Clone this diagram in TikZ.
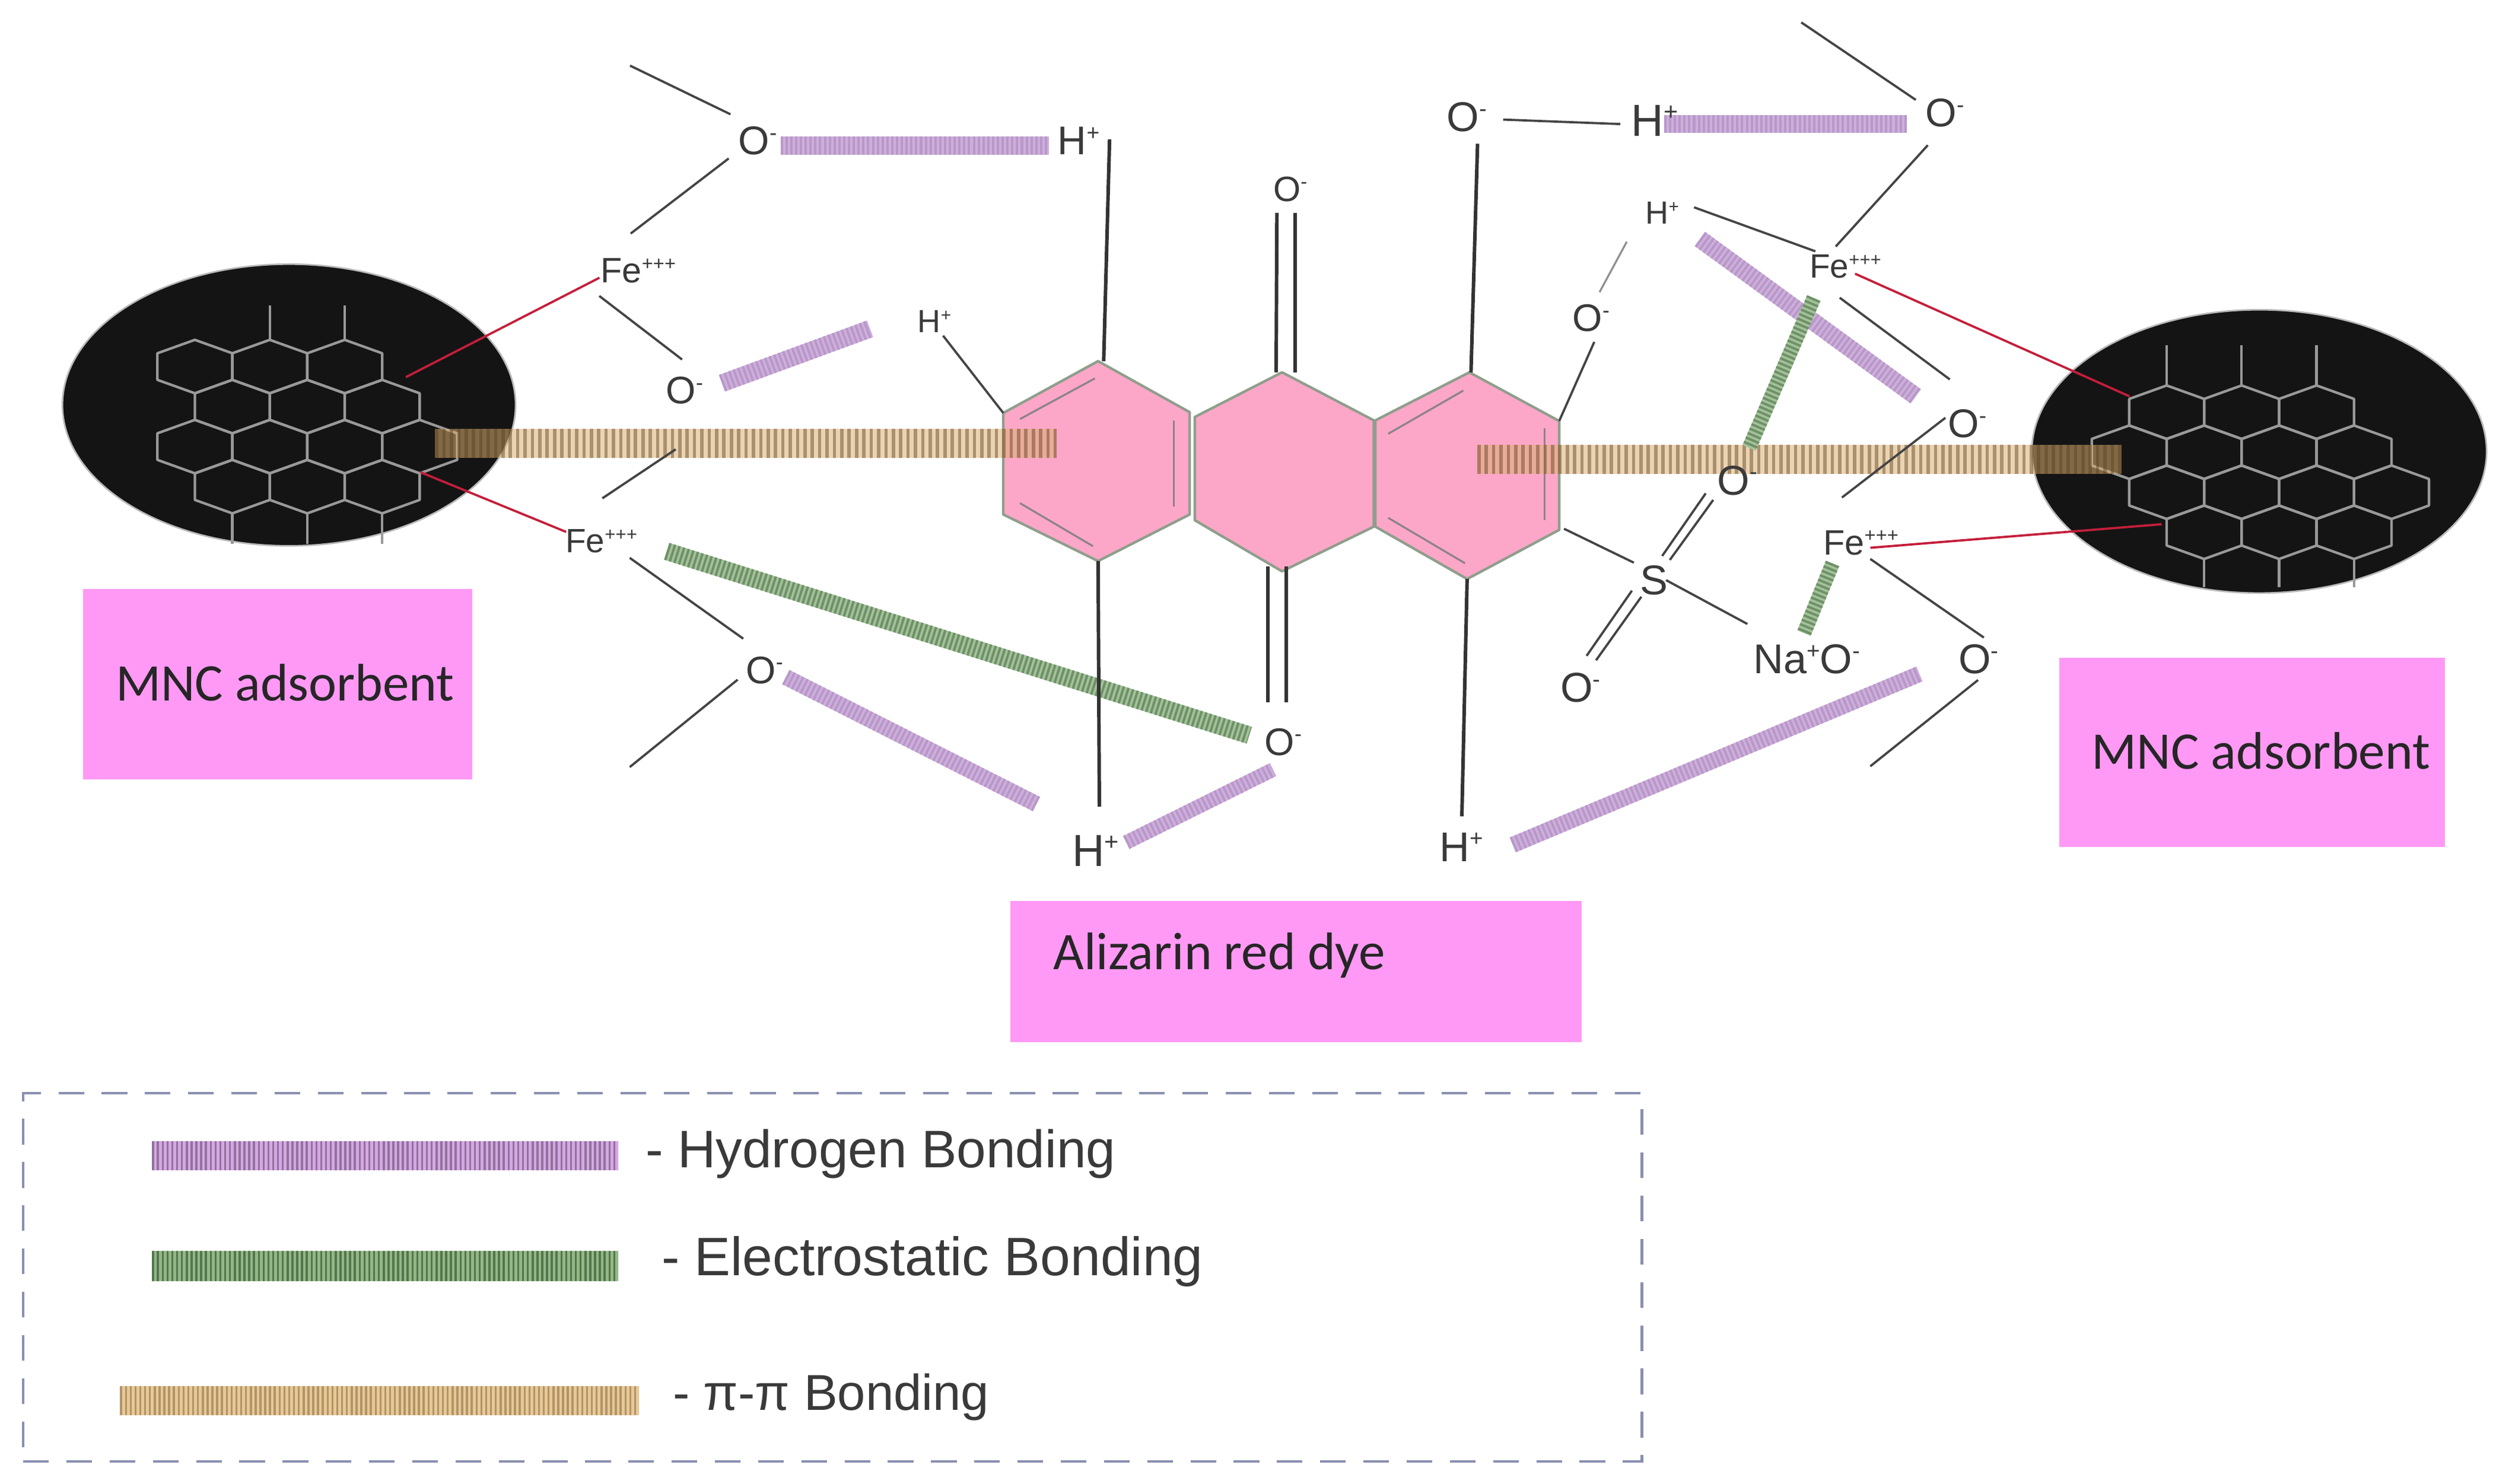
\documentclass[tikz,border=0pt]{standalone}
\usepackage{fontspec}
\setmainfont{Liberation Sans}
\newfontfamily\carl{Carlito}
\usetikzlibrary{shapes.geometric}
\definecolor{atomc}{HTML}{3A3A3A}
\definecolor{lin}{HTML}{444444}
\definecolor{stemc}{HTML}{333333}
\definecolor{boxc}{HTML}{FF99F5}
\definecolor{ringf}{HTML}{FDA7C8}
\definecolor{ringd}{HTML}{8F9E8C}
\definecolor{redl}{HTML}{C41E3A}
\definecolor{frame}{HTML}{8A8FB0}
\definecolor{hexc}{HTML}{999999}
\definecolor{purA}{HTML}{CEAEDB}
\definecolor{purB}{HTML}{B898C8}
\definecolor{greA}{HTML}{A3C29A}
\definecolor{greB}{HTML}{6F9068}
\definecolor{tanA}{HTML}{DBAF71}
\definecolor{tanB}{HTML}{5A4020}
\definecolor{lpurA}{HTML}{D6A6E6}
\definecolor{lpurB}{HTML}{8F7498}
\definecolor{lgreA}{HTML}{93B886}
\definecolor{lgreB}{HTML}{54754E}
\definecolor{ltanA}{HTML}{E8C894}
\definecolor{ltanB}{HTML}{B0946A}
\pgfdeclarelayer{base}
\pgfdeclarelayer{bars}
\pgfsetlayers{base,bars,main}
\newcommand\midtx[1]{\raisebox{-.35em}[0pt][0pt]{#1}}
\newcommand\sups[1]{\raisebox{.36em}{\scalebox{.55}{#1}}}
\newcommand\hexcell[2]{\draw[hexl] (#1,#2-16.7) -- (#1+23.4,#2-8.3) -- (#1+23.4,#2+8.3) -- (#1,#2+16.7) -- (#1-23.4,#2+8.3) -- (#1-23.4,#2-8.3) -- cycle;}
\tikzset{
  atom/.style={font=\fontsize{#1}{#1}\selectfont, inner sep=0pt, anchor=west, text=atomc},
  bondl/.style={draw=lin, line width=1.4pt},
  faint/.style={draw=lin!60, line width=1.2pt},
  stemb/.style={draw=stemc, line width=2.2pt},
  redb/.style={draw=redl, line width=1.4pt},
  hexl/.style={draw=hexc, line width=1.6pt, line join=round},
  ringp/.style={fill=ringf, draw=ringd, line width=1.6pt, line join=round},
  dbl/.style={draw=gray!90!ringf, line width=1.2pt},
  purb/.style={draw=purA, line width=#1, postaction={draw=purB, dash pattern=on 1.5pt off 1.5pt}},
  greb/.style={draw=greA, line width=#1, postaction={draw=greB, dash pattern=on 1.5pt off 1.5pt}},
  tanb/.style={draw=tanA, draw opacity=.55, line width=18pt, postaction={draw=tanB, draw opacity=.45, dash pattern=on 2.1pt off 2.5pt}},
  lpur/.style={draw=lpurA, line width=18pt, postaction={draw=lpurB, dash pattern=on 1.3pt off 1.7pt}},
  lgre/.style={draw=lgreA, line width=19pt, postaction={draw=lgreB, dash pattern=on 1.3pt off 1.7pt}},
  ltan/.style={draw=ltanA, line width=18.5pt, postaction={draw=ltanB, dash pattern=on 1.3pt off 1.7pt}},
  pinkbox/.style={fill=boxc, inner sep=0pt, font=\carl\fontsize{33}{33}\selectfont, text=black!85},
  legtext/.style={font=\fontsize{#1}{#1}\selectfont, inner sep=0pt, anchor=west, text=atomc},
  sphere/.style={ellipse, fill=black!92, draw=gray!55, line width=1pt, inner sep=0pt}
}
\begin{document}
\begin{tikzpicture}[x=1pt,y=-1pt]
\useasboundingbox (0,0) rectangle (1567,927);

% ----- free ends of bonds
\coordinate (fA) at (393.5,41);
\coordinate (fB) at (393.3,479.2);
\coordinate (fC) at (1125,14);
\coordinate (fD) at (1168.1,478.7);

\begin{pgfonlayer}{base}
\fill[white] (0,0) rectangle (1567,927);
% ----- adsorbent spheres
\node[sphere, minimum width=283pt, minimum height=176pt] (spL) at (180.5,253) {};
\node[sphere, minimum width=284pt, minimum height=177pt] (spR) at (1411,282) {};
\foreach \cx/\cy in {121.7/229,168.5/229,215.3/229,
  145.1/254,191.9/254,238.7/254,
  121.7/279,168.5/279,215.3/279,262.1/279,
  145.1/304,191.9/304,238.7/304}{\hexcell{\cx}{\cy}}
\foreach \cx in {168.5,215.3}{\draw[hexl] (\cx,190.8) -- (\cx,212.3);}
\foreach \cx in {145.1,191.9,238.7}{\draw[hexl] (\cx,320.7) -- (\cx,339.7);}
\foreach \cx/\cy in {1353.2/257.5,1400/257.5,1446.8/257.5,
  1329.8/282.5,1376.6/282.5,1423.4/282.5,1470.2/282.5,
  1353.2/307.5,1400/307.5,1446.8/307.5,1493.6/307.5,
  1376.6/332.5,1423.4/332.5,1470.2/332.5}{\hexcell{\cx}{\cy}}
\foreach \cx in {1353.2,1400,1446.8}{\draw[hexl] (\cx,215.6) -- (\cx,240.8);}
\foreach \cx in {1376.6,1423.4,1470.2}{\draw[hexl] (\cx,349.2) -- (\cx,367);}

% ----- dye rings
\coordinate (r1a) at (685.8,225.6); \coordinate (r1b) at (743,257.5);
\coordinate (r1c) at (743,321.4);   \coordinate (r1d) at (685.8,350.5);
\coordinate (r1e) at (626.6,321.4); \coordinate (r1f) at (626.6,258);
\coordinate (r2a) at (800.7,232.6); \coordinate (r2b) at (858,262.6);
\coordinate (r2c) at (858,329);     \coordinate (r2d) at (800.7,356.9);
\coordinate (r2e) at (746.2,325);   \coordinate (r2f) at (746.2,260.5);
\coordinate (r3a) at (917.7,232.6); \coordinate (r3b) at (973.8,263);
\coordinate (r3c) at (973.8,331);   \coordinate (r3d) at (916.3,361.7);
\coordinate (r3e) at (859,329);     \coordinate (r3f) at (859,262.6);
\draw[ringp] (r1a) -- (r1b) -- (r1c) -- (r1d) -- (r1e) -- (r1f) -- cycle;
\draw[ringp] (r2a) -- (r2b) -- (r2c) -- (r2d) -- (r2e) -- (r2f) -- cycle;
\draw[ringp] (r3a) -- (r3b) -- (r3c) -- (r3d) -- (r3e) -- (r3f) -- cycle;
\draw[dbl] (683.8,236.4) -- (637,261.8);
\draw[dbl] (733.2,262.6) -- (733.2,316.4);
\draw[dbl] (637,314.3) -- (682.6,341.2);
\draw[dbl] (913.9,244) -- (867,271);
\draw[dbl] (964.6,267.5) -- (964.6,325);
\draw[dbl] (867,323.5) -- (915,351.9);
\end{pgfonlayer}

% ----- label boxes
\node[pinkbox, minimum width=243pt, minimum height=119pt] (boxL) at (173.5,427.5) {\raisebox{-.31em}[0pt][0pt]{\hspace*{9pt}MNC adsorbent}};
\node[pinkbox, minimum width=241pt, minimum height=118pt] (boxR) at (1406.5,470) {\raisebox{-.31em}[0pt][0pt]{\hspace*{11pt}MNC adsorbent}};
\node[pinkbox, minimum width=357pt, minimum height=88pt] (boxD) at (809.5,607) {\raisebox{1.5pt}[0pt][0pt]{Alizarin red dye\hspace*{96pt}}};

% ----- atoms
\node[atom=25] (O1) at (461,87.7) {\midtx{O\sups{-}}};
\node[atom=25] (H1) at (660.4,87.7) {\midtx{H\sups{+}}};
\node[atom=22] (Fe1) at (375,169) {\midtx{Fe\sups{+++}}};
\node[atom=24] (O2) at (415.8,243.7) {\midtx{O\sups{-}}};
\node[atom=20] (H2) at (573,200.7) {\midtx{H\sups{+}}};
\node[atom=21] (Fe2) at (353,337.8) {\midtx{Fe\sups{+++}}};
\node[atom=24] (O3) at (465.7,418.5) {\midtx{O\sups{-}}};
\node[atom=24] (O4) at (789.7,463.4) {\midtx{O\sups{-}}};
\node[atom=28] (H3) at (669.5,531.3) {\midtx{H\sups{+}}};
\node[atom=26] (H4) at (899,529) {\midtx{H\sups{+}}};
\node[atom=22] (O5) at (795,118) {\midtx{O\sups{-}}};
\node[atom=26] (O6) at (903.4,73) {\midtx{O\sups{-}}};
\node[atom=28] (H5) at (1018.7,75.2) {\midtx{H\sups{+}}};
\node[atom=25] (O7) at (1202.4,70.3) {\midtx{O\sups{-}}};
\node[atom=20] (H6) at (1027.5,133) {\midtx{H\sups{+}}};
\node[atom=24] (O8) at (982,198.5) {\midtx{O\sups{-}}};
\node[atom=21] (Fe3) at (1130,166.4) {\midtx{Fe\sups{+++}}};
\node[atom=25] (O9) at (1216.4,264.6) {\midtx{O\sups{-}}};
\node[atom=26] (S1) at (1024,362.4) {\midtx{S}};
\node[atom=26] (O10) at (1072.4,300) {\midtx{O\sups{-}}};
\node[atom=26] (O11) at (974.4,429.5) {\midtx{O\sups{-}}};
\node[atom=26] (NaO) at (1095,411.8) {\midtx{Na\sups{+}O\sups{-}}};
\node[atom=22] (Fe4) at (1138.6,338.8) {\midtx{Fe\sups{+++}}};
\node[atom=26] (O12) at (1223,411.6) {\midtx{O\sups{-}}};

% ----- bonding bars (under the atoms)
\begin{pgfonlayer}{bars}
\draw[tanb] ([shift={(91.2,24)}]spL.center) -- ([shift={(33.4,19)}]r1f);
\draw[tanb] ([shift={(-51.2,-44)}]r3c) -- ([shift={(-86,5)}]spR.center);
\draw[purb=11.4pt] ([shift={(26.5,3.3)}]O1.west) -- ([shift={(-5.4,3.3)}]H1.west);
\draw[purb=11pt] ([shift={(35.1,-4.3)}]O2.west) -- ([shift={(-29.6,4.7)}]H2.west);
\draw[purb=10pt] ([shift={(25.1,4.5)}]O3.west) -- ([shift={(-22.2,-29)}]H3.west);
\draw[purb=9pt] ([shift={(33.9,-5)}]H3.west) -- ([shift={(5.3,17.4)}]O4.west);
\draw[purb=10pt] ([shift={(45.8,-1.2)}]H4.west) -- ([shift={(-24.2,9.4)}]O12.west);
\draw[purb=11.3pt] ([shift={(20.6,2.3)}]H5.west) -- ([shift={(-11.4,7.2)}]O7.west);
\draw[purb=11pt] ([shift={(34.2,16.3)}]H6.west) -- ([shift={(-19.9,-17)}]O9.west);
\draw[greb=11pt] ([shift={(63.4,6.6)}]Fe2.west) -- ([shift={(-9.5,-4.1)}]O4.west);
\draw[greb=9pt] ([shift={(2.8,19.8)}]Fe3.west) -- ([shift={(20,-20.2)}]O10.west);
\draw[greb=9pt] ([shift={(5.9,13.2)}]Fe4.west) -- ([shift={(31.7,-16.3)}]NaO.west);
\end{pgfonlayer}

% ----- bonds, left
\draw[bondl] (fA) -- ([shift={(-4.8,-16.3)}]O1.west);
\draw[bondl] ([shift={(-5.9,11.3)}]O1.west) -- ([shift={(18.9,-23.1)}]Fe1.west);
\draw[bondl] ([shift={(-0.7,15.9)}]Fe1.west) -- ([shift={(10.2,-19.1)}]O2.west);
\draw[bondl] ([shift={(6.2,37)}]O2.west) -- ([shift={(23.2,-26.5)}]Fe2.west);
\draw[bondl] ([shift={(40.3,10.7)}]Fe2.west) -- ([shift={(-1.5,-19.5)}]O3.west);
\draw[bondl] ([shift={(-5,6.1)}]O3.west) -- (fB);
\draw[bondl] ([shift={(16,9)}]H2.west) -- (r1f);
\draw[redb] ([shift={(-0.6,4.5)}]Fe1.west) -- ([shift={(73,-17.4)}]spL.center);
\draw[redb] ([shift={(0.6,-5.5)}]Fe2.west) -- ([shift={(82.1,42)}]spL.center);

% ----- bonds, dye
\draw[stemb] ([shift={(32.6,-0.7)}]H1.west) -- ([shift={(3.5,0)}]r1a);
\draw[stemb] (r1d) -- ([shift={(17.1,-27.3)}]H3.west);
\draw[stemb] ([shift={(2.5,15)}]O5.west) -- ([shift={(-3.7,0)}]r2a);
\draw[stemb] ([shift={(14,15)}]O5.west) -- ([shift={(8.3,0)}]r2a);
\draw[stemb] ([shift={(-8.7,-3)}]r2d) -- ([shift={(2.3,-24.8)}]O4.west);
\draw[stemb] ([shift={(2.6,-3)}]r2d) -- ([shift={(13.6,-24.8)}]O4.west);
\draw[stemb] ([shift={(19.4,16.8)}]O6.west) -- ([shift={(1,0)}]r3a);
\draw[stemb] (r3d) -- ([shift={(14,-19)}]H4.west);
\draw[bondl] ([shift={(35.4,1.7)}]O6.west) -- ([shift={(-6.7,2.3)}]H5.west);
\draw[bondl] (r3b) -- ([shift={(13.7,15.1)}]O8.west);
\draw[faint] ([shift={(17,-16)}]O8.west) -- ([shift={(-11.5,18)}]H6.west);

% ----- bonds, right
\draw[bondl] ([shift={(30.5,-3.5)}]H6.west) -- ([shift={(3.8,-9.4)}]Fe3.west);
\draw[bondl] ([shift={(16.5,-12.4)}]Fe3.west) -- ([shift={(1.6,20.4)}]O7.west);
\draw[bondl] ([shift={(-5.9,-7.9)}]O7.west) -- (fC);
\draw[bondl] ([shift={(19,19.6)}]Fe3.west) -- ([shift={(1.3,-27.6)}]O9.west);
\draw[bondl] ([shift={(-1.4,-3.6)}]O9.west) -- ([shift={(11.8,-28)}]Fe4.west);
\draw[bondl] ([shift={(29.5,10.4)}]Fe4.west) -- ([shift={(16,-13.3)}]O12.west);
\draw[bondl] ([shift={(12.4,13.2)}]O12.west) -- (fD);
\draw[bondl] ([shift={(3,-0.7)}]r3c) -- ([shift={(-3.6,-10.9)}]S1.west);
\draw[bondl] ([shift={(14.1,-15.1)}]S1.west) -- ([shift={(-7.1,8.2)}]O10.west);
\draw[bondl] ([shift={(18.9,-12.6)}]S1.west) -- ([shift={(-2.4,12.3)}]O10.west);
\draw[bondl] ([shift={(-4.8,6.6)}]S1.west) -- ([shift={(16.5,-19.8)}]O11.west);
\draw[bondl] ([shift={(1.1,10.4)}]S1.west) -- ([shift={(22.4,-17)}]O11.west);
\draw[bondl] ([shift={(16.5,0)}]S1.west) -- ([shift={(-3.7,-22)}]NaO.west);
\draw[redb] ([shift={(28.6,4.6)}]Fe3.west) -- ([shift={(-81,-34.4)}]spR.center);
\draw[redb] ([shift={(29.5,3.4)}]Fe4.west) -- ([shift={(-61,45.5)}]spR.center);

% ----- legend
\node[draw=frame, line width=1.6pt, dash pattern=on 16pt off 11pt, minimum width=1011pt, minimum height=230pt, inner sep=0pt] (legend) at (520,798) {};
\coordinate (lhA) at (95,722);  \coordinate (lhB) at (386,722);
\coordinate (leA) at (95,791);  \coordinate (leB) at (386,791);
\coordinate (lpA) at (75,875);  \coordinate (lpB) at (399,875);
\draw[lpur] (lhA) -- (lhB);
\draw[lgre] (leA) -- (leB);
\draw[ltan] (lpA) -- (lpB);
\node[legtext=33] (ltH) at (403,718) {\midtx{- Hydrogen Bonding}};
\node[legtext=33.8] (ltE) at (413,785) {\midtx{- Electrostatic Bonding}};
\node[legtext=31.5] (ltP) at (420,870) {\midtx{- π-π Bonding}};
\end{tikzpicture}
\end{document}
